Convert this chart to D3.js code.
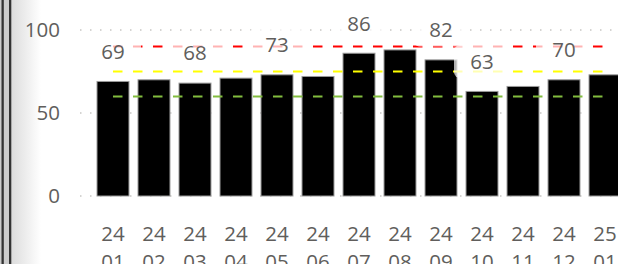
<!DOCTYPE html>
<html><head><meta charset="utf-8">
<script src="https://cdn.jsdelivr.net/npm/d3@7"></script>
<style>html,body{margin:0;padding:0;background:#fff;overflow:hidden}svg{display:block}</style>
</head><body>
<script>
const periods = ["24 01","24 02","24 03","24 04","24 05","24 06","24 07","24 08","24 09","24 10","24 11","24 12","25 01"];
const values = [69,70,68,71,73,72,86,88,82,63,66,70,73];
const labeledPeriods = ["24 01","24 03","24 05","24 07","24 09","24 10","24 12"];
const refValues = [90,75,60];
const refColors = ["#FF0000","#FFFF00","#82BC3F"];
const yTicks = [0,50,100];

const W=618,H=264;
const svg=d3.select("body").append("svg").attr("width",W).attr("height",H);
const defs=svg.append("defs");
const g=defs.append("linearGradient").attr("id","shade").attr("x1","0").attr("x2","1");
g.append("stop").attr("offset","0").attr("stop-color","#dcdcdc");
g.append("stop").attr("offset","1").attr("stop-color","#ffffff");

svg.append("rect").attr("width",W).attr("height",H).attr("fill","#fff");
// left frame
svg.append("rect").attr("x",11).attr("y",0).attr("width",30).attr("height",H).attr("fill","url(#shade)");
svg.append("rect").attr("x",0).attr("y",0).attr("width",11).attr("height",H).attr("fill","#cccccc");
svg.append("rect").attr("x",1.5).attr("y",0).attr("width",2.3).attr("height",H).attr("fill","#333");
svg.append("rect").attr("x",9).attr("y",0).attr("width",2.3).attr("height",H).attr("fill","#333");

const x=d3.scaleBand().domain(periods).range([97,621]).paddingInner(0.22).paddingOuter(0);
const y=d3.scaleLinear().domain([0,100]).range([196,30]);
const font="'Open Sans', sans-serif";
const txt="#605E5C";

// gridlines
svg.append("g").selectAll("line").data(yTicks).join("line")
  .attr("x1",80).attr("x2",W).attr("y1",d=>y(d)).attr("y2",d=>y(d))
  .attr("stroke","#c8c6c4").attr("stroke-width",1.5).attr("stroke-dasharray","1.5,8.5");

// y labels
svg.append("g").selectAll("text").data(yTicks).join("text")
  .attr("x",60).attr("y",d=>y(d)+7.3).attr("text-anchor","end")
  .attr("font-family",font).attr("font-size",20.5).attr("fill",txt).text(d=>d);

// bars
svg.append("g").selectAll("rect").data(periods).join("rect")
  .attr("x",d=>x(d)).attr("width",x.bandwidth())
  .attr("y",(d,i)=>y(values[i])).attr("height",(d,i)=>y(0)-y(values[i]))
  .attr("fill","#000").attr("stroke","#9a9a9a").attr("stroke-width",1);

// reference lines
const xs=x(periods[0])+x.bandwidth()/2, xe=x(periods[periods.length-1])+x.bandwidth()/2+2;
svg.append("g").selectAll("line").data(refValues).join("line")
  .attr("x1",xs).attr("x2",xe).attr("y1",d=>y(d)).attr("y2",d=>y(d))
  .attr("stroke",(d,i)=>refColors[i]).attr("stroke-width",2).attr("stroke-dasharray","9.5,10.5");

// data labels
const labeled=periods.map((p,i)=>({p,v:values[i]})).filter(d=>labeledPeriods.includes(d.p));
const lg=svg.append("g");
lg.selectAll("rect").data(labeled).join("rect")
  .attr("x",d=>x(d.p)+x.bandwidth()/2-28).attr("width",56)
  .attr("y",d=>y(d.v)-30-16.5).attr("height",33).attr("rx",6)
  .attr("fill","#fff").attr("fill-opacity",0.7);
lg.selectAll("text").data(labeled).join("text")
  .attr("x",d=>x(d.p)+x.bandwidth()/2).attr("y",d=>y(d.v)-30+7.3)
  .attr("text-anchor","middle").attr("font-family",font).attr("font-size",20.5).attr("fill",txt)
  .text(d=>d.v);

// x labels
const xt=svg.append("g").selectAll("text").data(periods).join("text")
  .attr("x",d=>x(d)+x.bandwidth()/2).attr("y",241)
  .attr("text-anchor","middle").attr("font-family",font).attr("font-size",20.5).attr("fill",txt);
xt.append("tspan").attr("x",d=>x(d)+x.bandwidth()/2).text(d=>d.split(" ")[0]);
xt.append("tspan").attr("x",d=>x(d)+x.bandwidth()/2).attr("dy",28).text(d=>d.split(" ")[1]);
</script>
</body></html>
